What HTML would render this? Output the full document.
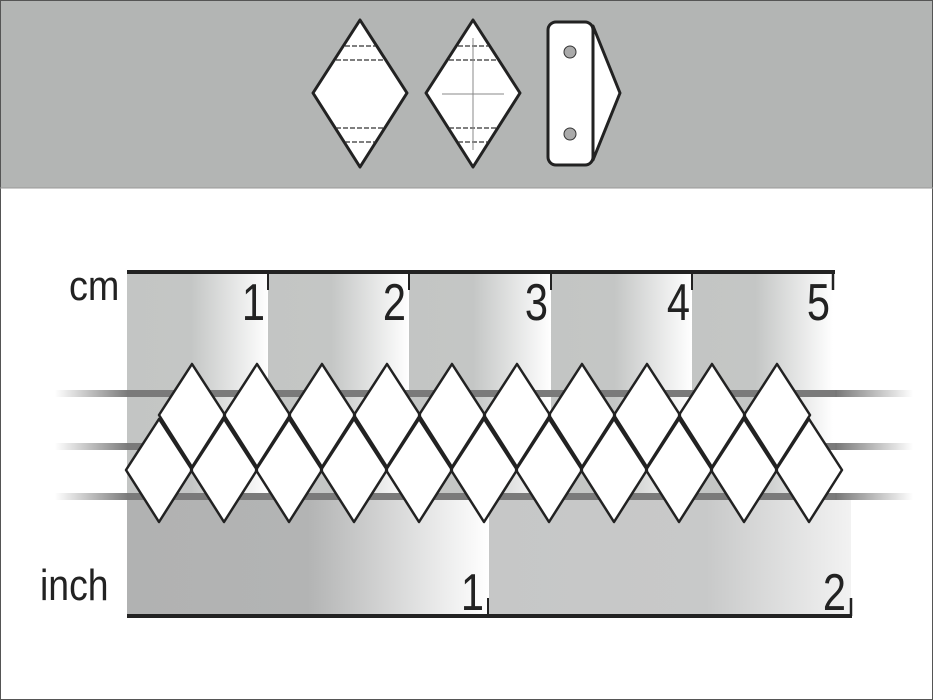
<!DOCTYPE html>
<html><head><style>
html,body{margin:0;padding:0;background:#fff}
svg{display:block}
text{font-family:"Liberation Sans",sans-serif;fill:#222}
</style></head><body>
<svg width="933" height="700" viewBox="0 0 933 700" xmlns="http://www.w3.org/2000/svg">
<defs>
<linearGradient id="cmg" x1="0" x2="1" y1="0" y2="0">
<stop offset="0" stop-color="#c3c5c4"/><stop offset="0.45" stop-color="#c4c6c5"/><stop offset="1" stop-color="#ffffff"/></linearGradient>
<linearGradient id="in1" x1="0" x2="1"><stop offset="0" stop-color="#b1b2b2"/><stop offset="0.5" stop-color="#b3b4b4"/><stop offset="1" stop-color="#ffffff"/></linearGradient>
<linearGradient id="in2" x1="0" x2="1"><stop offset="0" stop-color="#c6c7c7"/><stop offset="0.6" stop-color="#c8c9c9"/><stop offset="1" stop-color="#f2f2f2"/></linearGradient>
<linearGradient id="sl" x1="0" x2="1"><stop offset="0" stop-color="#777" stop-opacity="0"/><stop offset="1" stop-color="#777"/></linearGradient>
<linearGradient id="sr" x1="0" x2="1"><stop offset="0" stop-color="#777"/><stop offset="1" stop-color="#777" stop-opacity="0"/></linearGradient>
<g id="dia">
<polygon points="159,419 192,470 159,522 126,470"/>
<polygon points="224,419 257,470 224,522 191,470"/>
<polygon points="289,419 322,470 289,522 256,470"/>
<polygon points="354,419 387,470 354,522 321,470"/>
<polygon points="419,419 452,470 419,522 386,470"/>
<polygon points="484,419 517,470 484,522 451,470"/>
<polygon points="549,419 582,470 549,522 516,470"/>
<polygon points="614,419 647,470 614,522 581,470"/>
<polygon points="679,419 712,470 679,522 646,470"/>
<polygon points="744,419 777,470 744,522 711,470"/>
<polygon points="809,419 842,470 809,522 776,470"/>
<polygon points="192,364 225,415 192,467 159,415"/>
<polygon points="257,364 290,415 257,467 224,415"/>
<polygon points="322,364 355,415 322,467 289,415"/>
<polygon points="387,364 420,415 387,467 354,415"/>
<polygon points="452,364 485,415 452,467 419,415"/>
<polygon points="517,364 550,415 517,467 484,415"/>
<polygon points="582,364 615,415 582,467 549,415"/>
<polygon points="647,364 680,415 647,467 614,415"/>
<polygon points="712,364 745,415 712,467 679,415"/>
<polygon points="777,364 810,415 777,467 744,415"/>
</g>
<clipPath id="dclip"><use href="#dia"/></clipPath>
</defs>
<rect x="0" y="0" width="933" height="188" fill="#b3b5b4"/>
<rect x="0.5" y="0.5" width="932" height="699" fill="none" stroke="#555" stroke-width="1"/>
<line x1="0" y1="188" x2="933" y2="188" stroke="#999"/>
<g stroke="#222" stroke-width="3" fill="#fff" stroke-linejoin="round">
<polygon points="360,20 407,93 360,167 313,93"/>
<polygon points="473,20 520,93 473,167 426,93"/>
<polygon points="593,26 620,93 593,160"/>
<rect x="548" y="22" width="45" height="143" rx="8"/>
</g>
<g stroke="#333" stroke-width="1.3" stroke-dasharray="5,2">
<line x1="345" y1="46" x2="376" y2="46"/><line x1="336" y1="60" x2="385" y2="60"/>
<line x1="336" y1="128" x2="385" y2="128"/><line x1="345" y1="142" x2="376" y2="142"/>
<line x1="458" y1="46" x2="489" y2="46"/><line x1="449" y1="60" x2="498" y2="60"/>
<line x1="449" y1="128" x2="498" y2="128"/><line x1="458" y1="142" x2="489" y2="142"/>
</g>
<line x1="473" y1="38" x2="473" y2="150" stroke="#888" stroke-width="1"/>
<line x1="442" y1="94" x2="504" y2="94" stroke="#888" stroke-width="1"/>
<circle cx="570" cy="52" r="6" fill="#aaa" stroke="#333" stroke-width="1"/>
<circle cx="570" cy="134" r="6" fill="#aaa" stroke="#333" stroke-width="1"/>
<rect x="127" y="273" width="142" height="230" fill="url(#cmg)"/>
<rect x="268" y="273" width="141" height="230" fill="url(#cmg)"/>
<rect x="409" y="273" width="142" height="230" fill="url(#cmg)"/>
<rect x="551" y="273" width="141" height="230" fill="url(#cmg)"/>
<rect x="692" y="273" width="141" height="230" fill="url(#cmg)"/>
<rect x="127" y="500" width="362" height="115" fill="url(#in1)"/>
<rect x="489" y="500" width="362" height="115" fill="url(#in2)"/>
<g>
<rect x="55" y="390" width="75" height="7" fill="url(#sl)"/><rect x="127" y="390" width="710" height="7" fill="#7a7a7a"/><rect x="835" y="390" width="78" height="7" fill="url(#sr)"/>
<rect x="55" y="443" width="75" height="7" fill="url(#sl)"/><rect x="127" y="443" width="710" height="7" fill="#7a7a7a"/><rect x="835" y="443" width="78" height="7" fill="url(#sr)"/>
<rect x="55" y="493" width="75" height="7" fill="url(#sl)"/><rect x="127" y="493" width="710" height="7" fill="#7a7a7a"/><rect x="835" y="493" width="78" height="7" fill="url(#sr)"/>
</g>
<use href="#dia" fill="#fff"/>
<g clip-path="url(#dclip)" fill="#dcdcdc">
<rect x="127" y="390" width="720" height="7"/>
<rect x="127" y="443" width="720" height="7"/>
<rect x="127" y="493" width="720" height="7"/>
</g>
<use href="#dia" fill="none" stroke="#222" stroke-width="2.5" stroke-linejoin="round"/>
<g stroke="#222">
<line x1="127" y1="272" x2="835" y2="272" stroke-width="4"/>
<line x1="268" y1="272" x2="268" y2="290" stroke-width="2"/>
<line x1="409" y1="272" x2="409" y2="290" stroke-width="2"/>
<line x1="551" y1="272" x2="551" y2="290" stroke-width="2"/>
<line x1="692" y1="272" x2="692" y2="290" stroke-width="2"/>
<line x1="833" y1="272" x2="833" y2="290" stroke-width="2.5"/>
</g>
<text transform="translate(69,300) scale(0.9,1)" font-size="42">cm</text>
<g font-size="52" text-anchor="end">
<text transform="translate(265,320) scale(0.8,1)">1</text>
<text transform="translate(406,320) scale(0.8,1)">2</text>
<text transform="translate(548,320) scale(0.8,1)">3</text>
<text transform="translate(690,320) scale(0.8,1)">4</text>
<text transform="translate(830,320) scale(0.8,1)">5</text>
</g>
<g stroke="#222">
<line x1="127" y1="616" x2="852" y2="616" stroke-width="4"/>
<line x1="488" y1="598" x2="488" y2="616" stroke-width="2"/>
<line x1="851" y1="598" x2="851" y2="616" stroke-width="2.5"/>
</g>
<text transform="translate(40,600) scale(0.85,1)" font-size="44">inch</text>
<g font-size="52" text-anchor="end">
<text transform="translate(484,610) scale(0.8,1)">1</text>
<text transform="translate(846,610) scale(0.8,1)">2</text>
</g>
</svg>
</body></html>
